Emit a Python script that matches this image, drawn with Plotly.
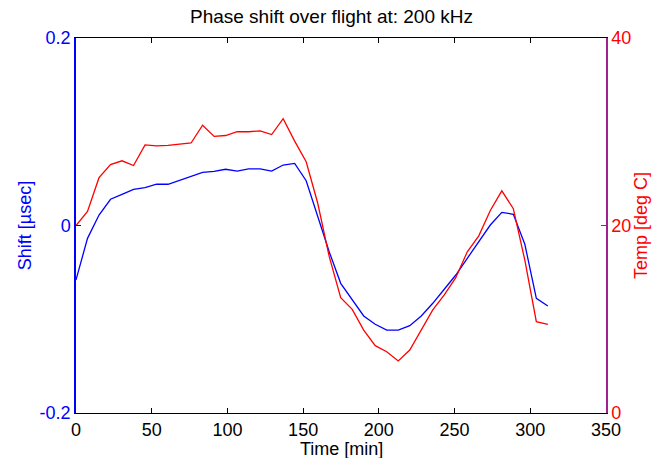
import plotly.graph_objects as go

time_min = [7.6 * i for i in range(42)]
shift_usec = [-0.058, -0.0137, 0.0112, 0.028, 0.0333, 0.0386, 0.0403, 0.044, 0.044, 0.0485,
              0.053, 0.0567, 0.0578, 0.060, 0.058, 0.0603, 0.0603, 0.058, 0.0645, 0.0663,
              0.0478, 0.0094, -0.028, -0.0617, -0.0795, -0.0965, -0.1054, -0.1115, -0.1115, -0.1069,
              -0.0965, -0.083, -0.068, -0.0528, -0.035, -0.0172, 0.0005, 0.014, 0.012, -0.02,
              -0.0777, -0.0859]
temp_degc = [20.0, 21.5, 25.1, 26.5, 26.9, 26.4, 28.6, 28.5, 28.55, 28.7,
             28.8, 30.7, 29.5, 29.6, 30.0, 30.0, 30.1, 29.7, 31.4, 29.0,
             26.8, 22.4, 16.7, 12.3, 11.06, 8.85, 7.18, 6.54, 5.55, 6.72,
             8.85, 10.99, 12.59, 14.43, 17.2, 18.9, 21.6, 23.7, 21.8, 16.3,
             9.74, 9.46]

x_ticks = [0, 50, 100, 150, 200, 250, 300, 350]
y1_ticks = [-0.2, 0, 0.2]
y1_ticktext = ["-0.2", "0", "0.2"]
y2_ticks = [0, 20, 40]

FONT = "Liberation Sans, Arial, Helvetica, sans-serif"
FS = 18

fig = go.Figure()
fig.add_trace(go.Scatter(x=time_min, y=shift_usec, mode="lines",
                         line=dict(color="#0000FF", width=1.3), yaxis="y", showlegend=False))
fig.add_trace(go.Scatter(x=time_min, y=temp_degc, mode="lines",
                         line=dict(color="#FF0000", width=1.3), yaxis="y2", showlegend=False))

fig.update_layout(
    width=663, height=458,
    margin=dict(l=76, r=57, t=38, b=45),
    paper_bgcolor="white", plot_bgcolor="white",
    font=dict(family=FONT, size=FS, color="black"),
    title=dict(text="Phase shift over flight at: 200 kHz", x=0.5, xanchor="center",
               y=1 - 16 / 458, yanchor="middle", font=dict(size=19, color="black")),
    xaxis=dict(range=[0, 350], tickvals=x_ticks, ticks="inside", ticklen=5, tickcolor="black",
               showline=True, linecolor="black", linewidth=1, mirror="ticks",
               showgrid=False, zeroline=False, automargin=False,
               tickfont=dict(size=FS, color="black")),
    yaxis=dict(range=[-0.2, 0.2], tickvals=y1_ticks, ticktext=y1_ticktext, ticks="inside",
               ticklen=5, tickcolor="#0000FF", showline=True, linecolor="#0000FF", linewidth=1.5,
               showgrid=False, zeroline=False, color="#0000FF", automargin=False,
               title=dict(text="Shift [µsec]", standoff=3, font=dict(size=FS, color="#0000FF")),
               tickfont=dict(size=FS, color="#0000FF")),
    yaxis2=dict(range=[0, 40], tickvals=y2_ticks, overlaying="y", side="right", anchor="x",
                ticks="inside", ticklen=5, tickcolor="#FF0000", showline=True, automargin=False,
                linecolor="#A0228F", linewidth=1.5, showgrid=False, zeroline=False,
                title=dict(text="Temp [deg C]", standoff=2, font=dict(size=FS, color="#FF0000")),
                tickfont=dict(size=FS, color="#FF0000")),
    annotations=[dict(text="Time [min]", xref="paper", yref="paper", x=0.5, y=-36 / 375,
                      xanchor="center", yanchor="middle", showarrow=False,
                      font=dict(size=FS, color="black"))],
)

fig.write_html("out.html")
